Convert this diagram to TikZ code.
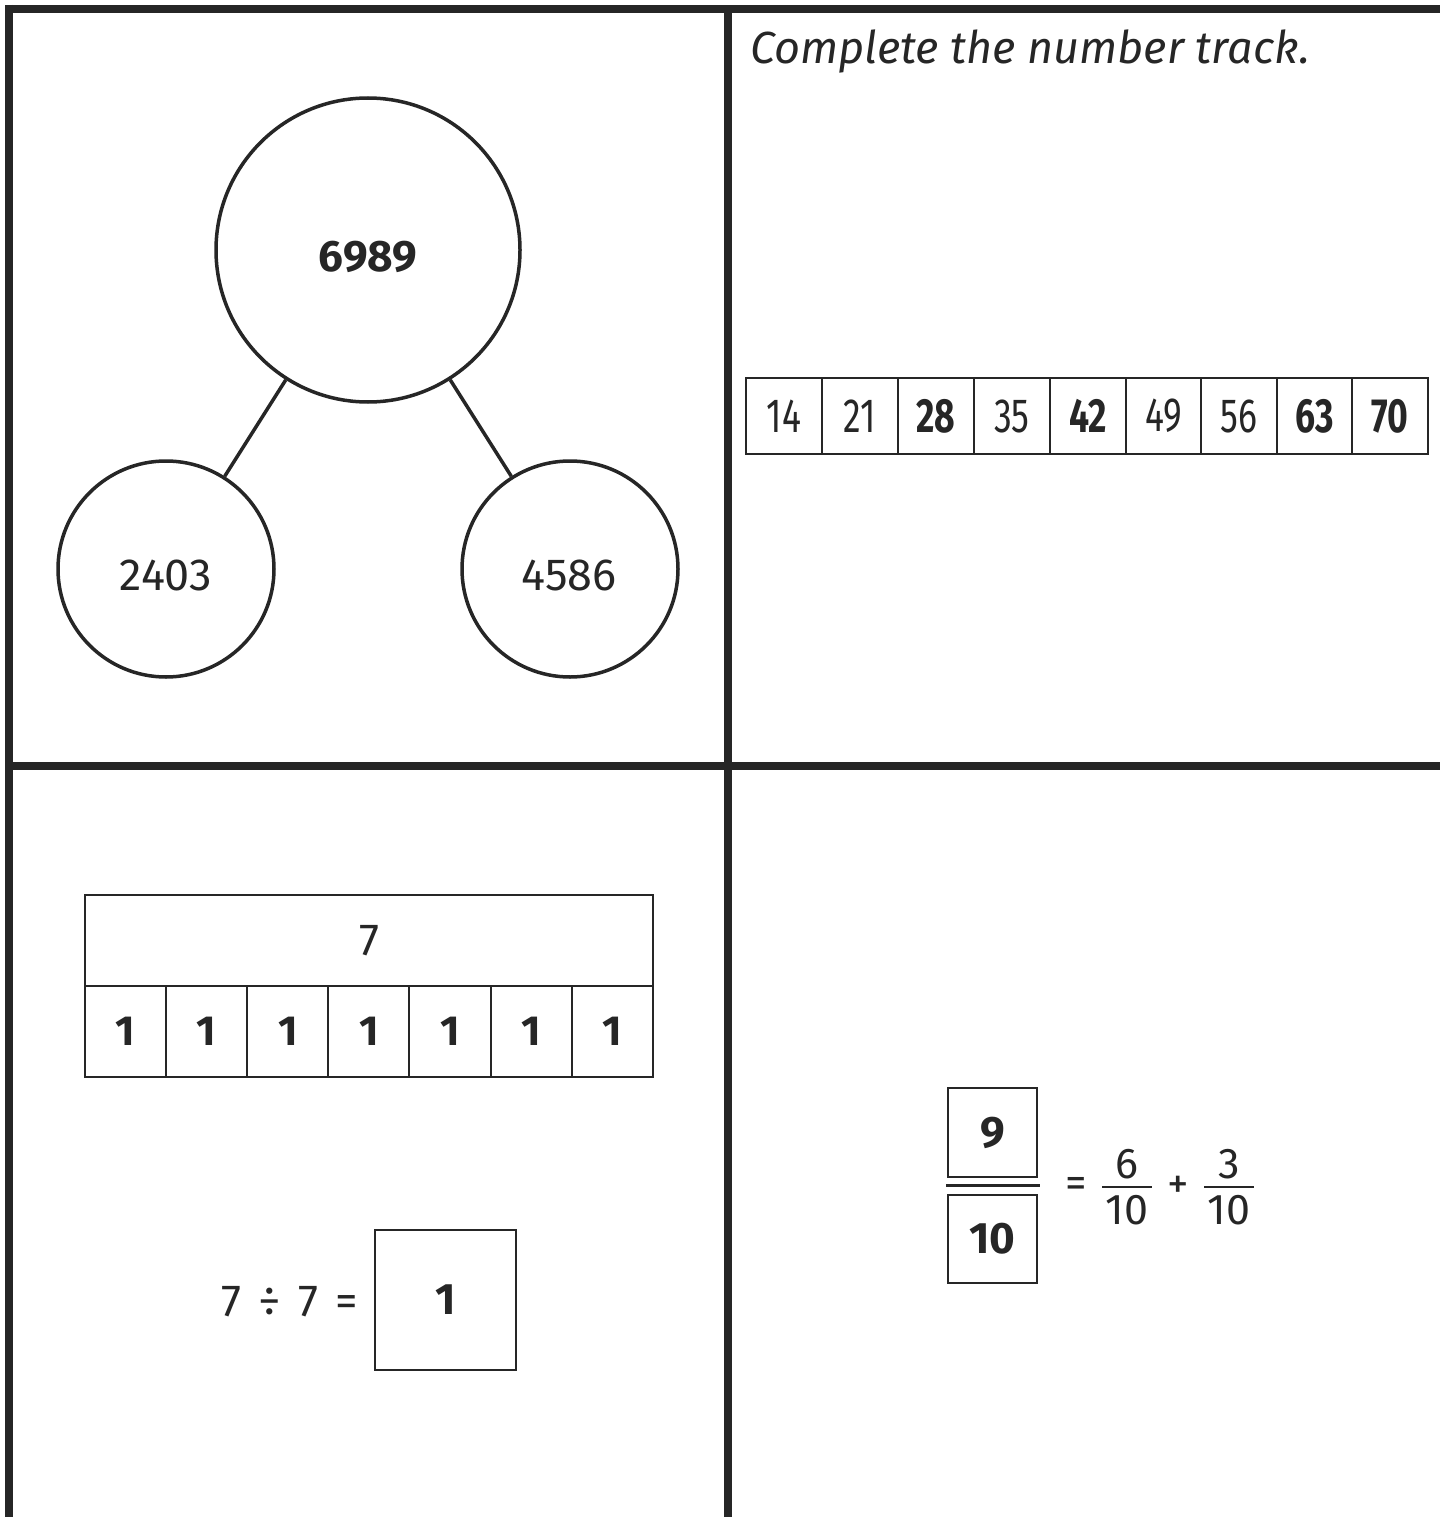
\documentclass[tikz,border=0pt]{standalone}
\usepackage{fontspec}
\setmainfont{Fira Sans}
\newfontfamily\condfont[FakeStretch=0.74]{Fira Sans}
\newfontfamily\handfont{Fira Sans Italic}
\definecolor{ink}{RGB}{38,38,38}
\begin{document}
\begin{tikzpicture}[x=1pt,y=-1pt,
  every node/.style={text=ink, inner sep=0pt},
  frame/.style={draw=ink, line width=8pt},
  ring/.style={circle, draw=ink, line width=3.5pt},
  link/.style={draw=ink, line width=3.5pt},
  num/.style={font=\fontsize{45}{45}\selectfont},
  bnum/.style={font=\fontsize{44}{44}\selectfont\bfseries},
  trackcell/.style={draw=ink, line width=2pt, minimum width=75.8pt, minimum height=76pt, font=\condfont\fontsize{48}{48}\selectfont},
  barcell/.style={draw=ink, line width=2pt, minimum width=81.1pt, minimum height=91pt},
  ansbox/.style={draw=ink, line width=2.5pt},
  fracnum/.style={font=\fontsize{43}{43}\selectfont}
]
\useasboundingbox (0,0) rectangle (1440,1517);
\fill[white] (0,0) rectangle (1440,1517);

% frame
\draw[frame] (5,9) -- (1440,9);
\draw[frame] (9,5) -- (9,1517);
\draw[frame] (728,9) -- (728,1517);
\draw[frame] (9,766) -- (1440,766);

% part-whole model
\node[ring, minimum size=304pt] (whole) at (368,250) {};
\node[ring, minimum size=216pt] (partA) at (166,569) {};
\node[ring, minimum size=216pt] (partB) at (570,569) {};
\draw[link] (whole) -- (partA);
\draw[link] (whole) -- (partB);
\node[bnum] (wholeT) at (368,257) {6989};
\node[num] (partAT) at (166,575) {2403};
\node[num] (partBT) at (569,575) {4586};

% number track
\node[font=\handfont\fontsize{45}{45}\selectfont, anchor=west] (title) at (750,51) {Complete the number track.};
\node[trackcell] (t1) at (784,416) {14};
\node[trackcell] (t2) at (860,416) {21};
\node[trackcell] (t3) at (936,416) {\bfseries 28};
\node[trackcell] (t4) at (1012,416) {35};
\node[trackcell] (t5) at (1088,416) {\bfseries 42};
\node[trackcell] (t6) at (1163.5,416) {49};
\node[trackcell] (t7) at (1239,416) {56};
\node[trackcell] (t8) at (1314.5,416) {\bfseries 63};
\node[trackcell] (t9) at (1390,416) {\bfseries 70};

% bar model
\node[draw=ink, line width=2pt, minimum width=568pt, minimum height=91pt, font=\fontsize{45}{45}\selectfont] (total) at (369,940.5) {7};
\foreach \i in {0,...,6} {
  \node[barcell, font=\fontsize{42}{42}\selectfont\bfseries] (b\i) at ({125.55+81.1*\i},1031.5) {1};
}

% division
\node[num, anchor=east] (divT) at (358,1302) {7\hspace{17pt}÷\hspace{17pt}7\hspace{17pt}=};
\node[ansbox, minimum width=141pt, minimum height=140pt, bnum] (divA) at (445.5,1300) {1};

% fractions
\node[ansbox, minimum width=89pt, minimum height=89pt, bnum] (numer) at (992.5,1132.5) {9};
\node[ansbox, minimum width=89pt, minimum height=88pt, bnum] (denom) at (992.5,1239) {10};
\coordinate (barL) at (946,1185);
\coordinate (barR) at (1040,1185);
\draw[draw=ink, line width=3pt] (barL) -- (barR);
\node[fracnum] (eq) at (1076,1187) {=};
\node[fracnum] (n1) at (1127,1164) {6};
\draw[draw=ink, line width=2.5pt] (1102,1187) -- (1152,1187);
\node[fracnum] (d1) at (1127,1210) {10};
\node[fracnum] (plus) at (1178,1187) {+};
\node[fracnum] (n2) at (1229,1164) {3};
\draw[draw=ink, line width=2.5pt] (1204,1187) -- (1254,1187);
\node[fracnum] (d2) at (1229,1210) {10};
\end{tikzpicture}
\end{document}
